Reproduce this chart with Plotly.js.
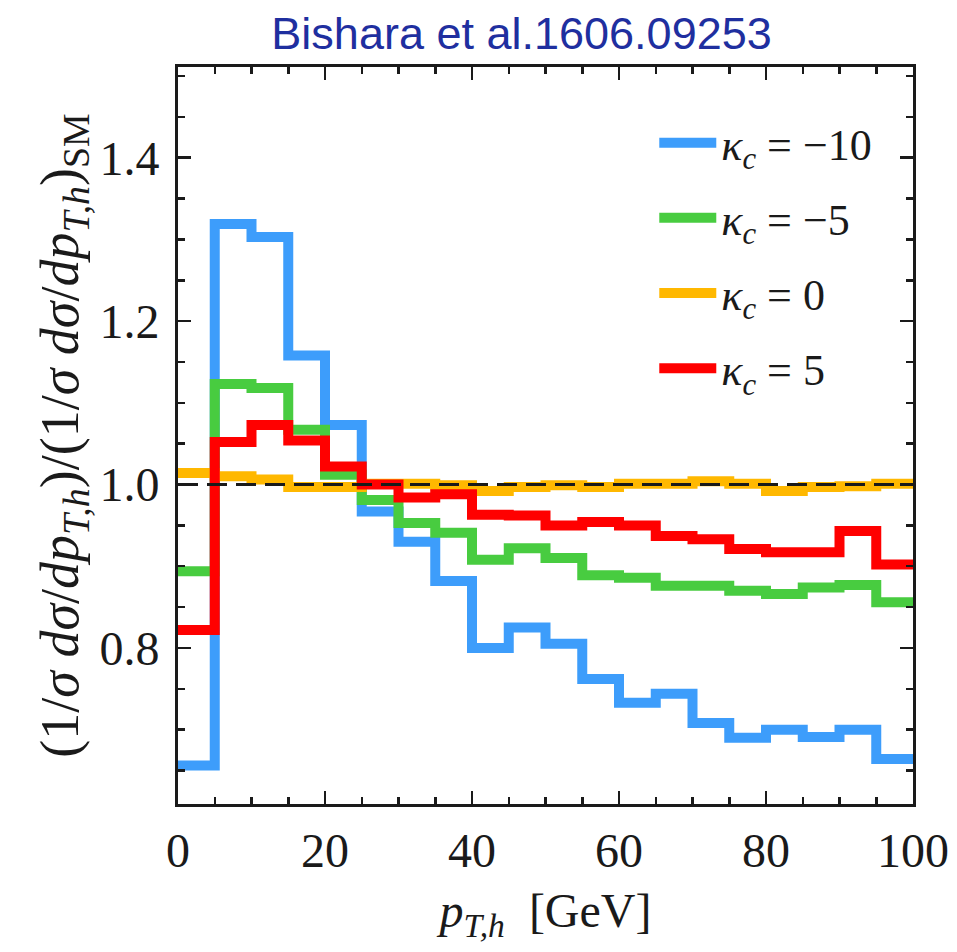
<!DOCTYPE html>
<html>
<head>
<meta charset="utf-8">
<script src="https://cdn.plot.ly/plotly-3.0.1.min.js"></script>
<style>html,body{margin:0;padding:0;background:#fff;}#chart{width:957px;height:952px;}</style>
</head>
<body>
<div id="chart"></div>
<script>
// bin edges in GeV (20 bins of 5 GeV)
var binEdges = [0,5,10,15,20,25,30,35,40,45,50,55,60,65,70,75,80,85,90,95,100];
var seriesNames = ["<i>κ</i><sub><i>c</i></sub> = −10", "<i>κ</i><sub><i>c</i></sub> = −5", "<i>κ</i><sub><i>c</i></sub> = 0", "<i>κ</i><sub><i>c</i></sub> = 5"];
var kappaM10 = [0.656,1.319,1.303,1.158,1.073,0.967,0.930,0.882,0.800,0.825,0.805,0.762,0.733,0.744,0.708,0.690,0.700,0.691,0.700,0.664];
var kappaM5  = [0.894,1.123,1.118,1.067,1.012,0.981,0.953,0.941,0.908,0.922,0.910,0.889,0.886,0.876,0.876,0.870,0.866,0.874,0.877,0.856];
var kappa0   = [1.014,1.010,1.006,0.997,0.997,1.001,1.001,0.999,0.992,0.997,0.999,0.997,1.001,1.001,1.004,1.001,0.992,0.997,0.998,1.001];
var kappa5   = [0.822,1.052,1.073,1.054,1.022,1.000,0.984,0.988,0.963,0.962,0.950,0.954,0.950,0.937,0.933,0.921,0.917,0.917,0.943,0.902];
var xTickVals = [0,20,40,60,80,100];
var xTickText = ["0","20","40","60","80","100"];
var yTickVals = [0.8,1.0,1.2,1.4];
var yTickText = ["0.8","1.0","1.2","1.4"];
var colors = ["#3d9dfb","#48cc40","#ffb800","#ff0000"];
var allSeries = [kappaM10, kappaM5, kappa0, kappa5];

var traces = allSeries.map(function(vals, i){
  return {
    type: "scatter", mode: "lines",
    x: binEdges,
    y: vals.concat([vals[vals.length-1]]),
    line: {shape: "hv", color: colors[i], width: 10},
    name: seriesNames[i],
    legendgroup: "g" + i
  };
});

var serif = "Liberation Serif, Times New Roman, serif";
var ink = "#1a1a1a";
var layout = {
  width: 957, height: 952,
  paper_bgcolor: "#fff", plot_bgcolor: "#fff",
  margin: {l: 178, r: 44, t: 67, b: 148},
  title: {text: "Bishara et al.1606.09253", font: {family: "Liberation Sans, Arial, sans-serif", size: 45, color: "#1f2f9f"}, x: 0.545, xanchor: "center", y: 0.965, yanchor: "middle"},
  showlegend: true,
  legend: {x: 0.648, y: 0.945, xanchor: "left", yanchor: "top", bgcolor: "rgba(0,0,0,0)", font: {family: serif, size: 44, color: ink}, tracegroupgap: 15, itemwidth: 57},
  xaxis: {
    range: [0, 100], showgrid: false, zeroline: false,
    showline: true, linecolor: ink, linewidth: 3, mirror: "allticks",
    ticks: "inside", ticklen: 13, tickwidth: 2.5, tickcolor: ink,
    tickvals: xTickVals, ticktext: xTickText,
    minor: {dtick: 5, tick0: 0, ticks: "inside", ticklen: 7, tickwidth: 2.5, tickcolor: ink},
    tickfont: {family: serif, size: 48, color: ink},
    ticklabelstandoff: 2,
    title: {text: "<i>p</i><sub><i>T,h</i></sub>  [GeV]", font: {family: serif, size: 48, color: ink}, standoff: 18}
  },
  yaxis: {
    range: [0.609, 1.511], showgrid: false, zeroline: false,
    showline: true, linecolor: ink, linewidth: 3, mirror: "allticks",
    ticks: "inside", ticklen: 13, tickwidth: 2.5, tickcolor: ink,
    tickvals: yTickVals, ticktext: yTickText,
    minor: {dtick: 0.05, tick0: 0, ticks: "inside", ticklen: 7, tickwidth: 2.5, tickcolor: ink},
    tickfont: {family: serif, size: 48, color: ink},
    ticklabelstandoff: 6,
    title: {text: "(1/<i>σ dσ</i>/<i>dp</i><sub><i>T,h</i></sub>)/(1/<i>σ dσ</i>/<i>dp</i><sub><i>T,h</i></sub>)<sub>SM</sub>", font: {family: serif, size: 54, color: ink}, standoff: 4}
  },
  shapes: [{type: "line", xref: "x", yref: "y", x0: 0, x1: 100, y0: 1.0, y1: 1.0, line: {color: ink, width: 3, dash: "20px,9px"}, layer: "above"}]
};

Plotly.newPlot("chart", traces, layout, {staticPlot: true});
</script>
</body>
</html>
